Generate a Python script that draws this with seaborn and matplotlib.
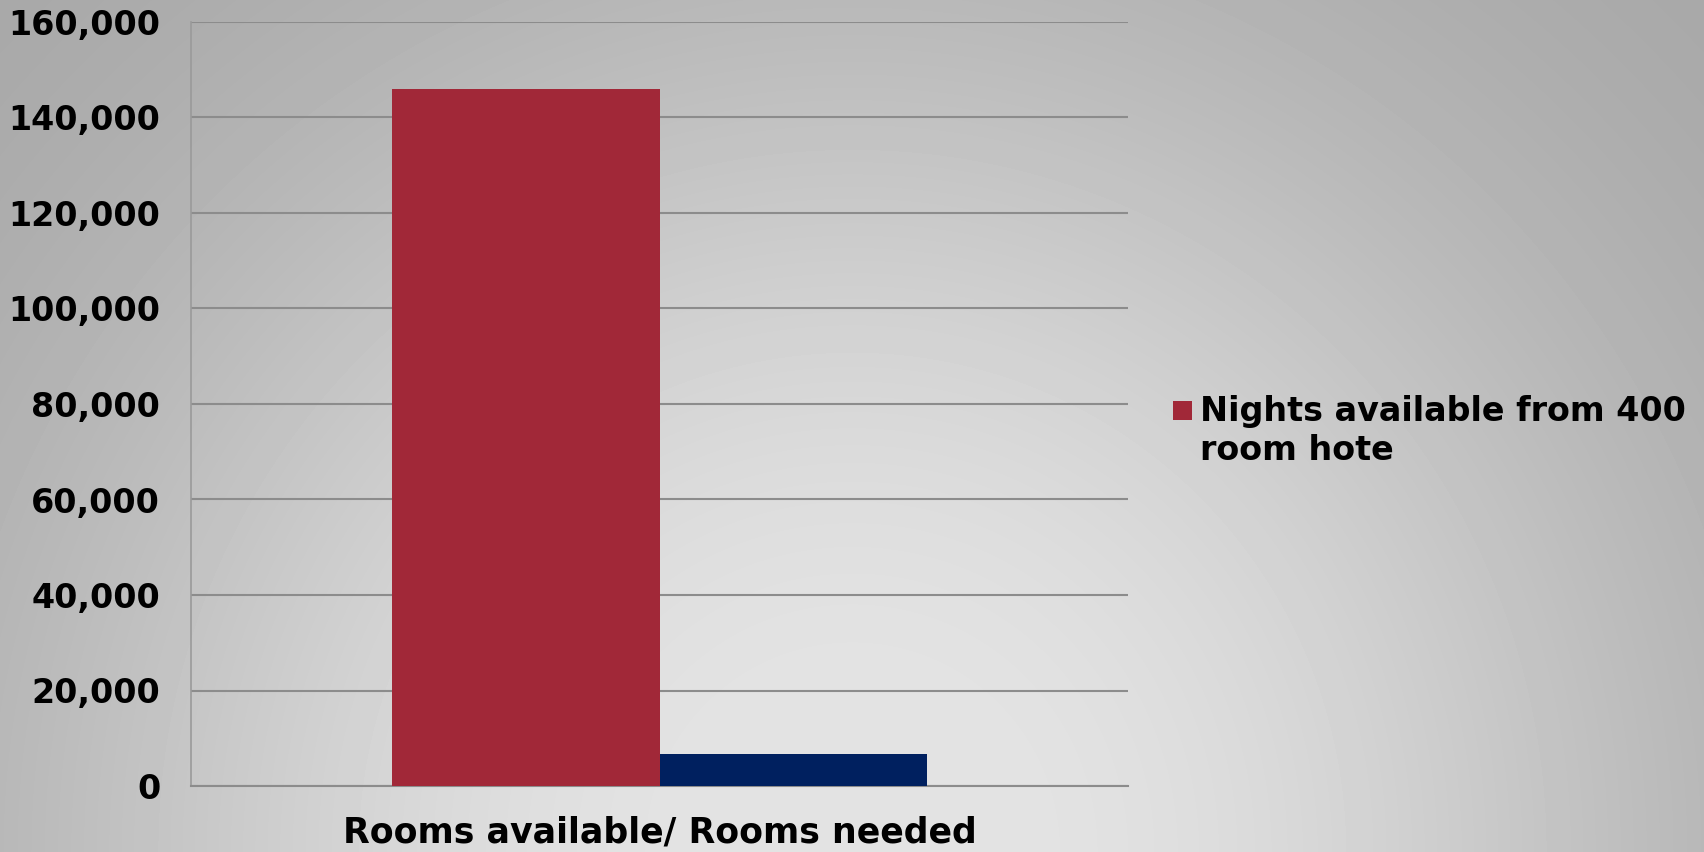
import numpy as np
import pandas as pd
import matplotlib
matplotlib.use("Agg")
import matplotlib.pyplot as plt
from matplotlib.patches import Rectangle
from matplotlib.ticker import FuncFormatter
import seaborn as sns

# ---- data -------------------------------------------------------------
category = ["Rooms available/ Rooms needed"]
series_names = ["Nights available from 400 room hote", "Nights needed"]
series_values = [146000, 6800]
series_colors = ["#A12838", "#00205F"]
y_ticks = [0, 20000, 40000, 60000, 80000, 100000, 120000, 140000, 160000]
legend_lines = ["Nights available from 400", "room hote"]

df = pd.DataFrame({
    "category": category * len(series_names),
    "series": series_names,
    "nights": series_values,
})

sns.set_theme(style="white")
plt.rcParams["font.family"] = ["DejaVu Sans"]
plt.rcParams["font.weight"] = "bold"

W, H = 1704, 852
fig = plt.figure(figsize=(W / 100, H / 100), dpi=100)

# ---- soft radial grey background, brightest at the bottom centre ----------
yy, xx = np.mgrid[0:H, 0:W]
t = np.sqrt(((xx - 852) / 820.0) ** 2 + ((yy - 852) / 830.0) ** 2)
shade = (165 + 63 * np.exp(-(t / 0.97) ** 2.6)) / 255.0
bg = fig.add_axes([0, 0, 1, 1], zorder=-10)
bg.imshow(shade, cmap="gray", vmin=0, vmax=1, aspect="auto", interpolation="bilinear")
bg.axis("off")

# ---- bar chart ------------------------------------------------------------
ax_left, ax_right, ax_top, ax_zero = 191, 1128, 22, 786
ax = fig.add_axes([ax_left / W, 1 - ax_zero / H, (ax_right - ax_left) / W,
                   (ax_zero - ax_top) / H])
ax.set_facecolor("none")
sns.barplot(data=df, x="category", y="nights", hue="series",
            palette=series_colors, width=0.572, saturation=1,
            errorbar=None, legend=False, linewidth=0, zorder=3, ax=ax)

grid_col = "#8c8c8c"
ax.set_xlim(-0.5, 0.5)
ax.set_ylim(0, 160000)
ax.set_yticks(y_ticks)
ax.yaxis.set_major_formatter(FuncFormatter(lambda v, p: f"{int(v):,}"))
ax.yaxis.grid(True, color=grid_col, linewidth=1.5)
ax.set_axisbelow(True)

for side in ("top", "right"):
    ax.spines[side].set_visible(False)
ax.spines["left"].set_color("#9a9a9a")
ax.spines["left"].set_linewidth(1.2)
ax.spines["bottom"].set_color(grid_col)
ax.spines["bottom"].set_linewidth(1.5)

ax.tick_params(axis="y", which="major", direction="out", length=7.2, width=1.5,
               color=grid_col, pad=15, labelsize=24, labelcolor="black")
ax.set_xticks([0])
ax.set_xticklabels(category)
ax.tick_params(axis="x", which="major", length=0, pad=21, labelsize=25, labelcolor="black")
ax.set_xticks([-0.5, 0.5], minor=True)
ax.tick_params(axis="x", which="minor", direction="out", length=7.5, width=1.2,
               color="#9a9a9a")
ax.set_xlabel("")
ax.set_ylabel("")

# ---- legend (first series only) -----------------------------------------
fig.add_artist(Rectangle((1173 / W, 1 - 420 / H), 19 / W, 19 / H,
                         transform=fig.transFigure, facecolor=series_colors[0],
                         edgecolor="none"))
fig.text(1200 / W, 1 - 421 / H, legend_lines[0], fontsize=24, fontweight="bold",
         color="black", va="baseline", ha="left")
fig.text(1200 / W, 1 - 460 / H, legend_lines[1], fontsize=24, fontweight="bold",
         color="black", va="baseline", ha="left")

fig.savefig("out.png", dpi=100)
